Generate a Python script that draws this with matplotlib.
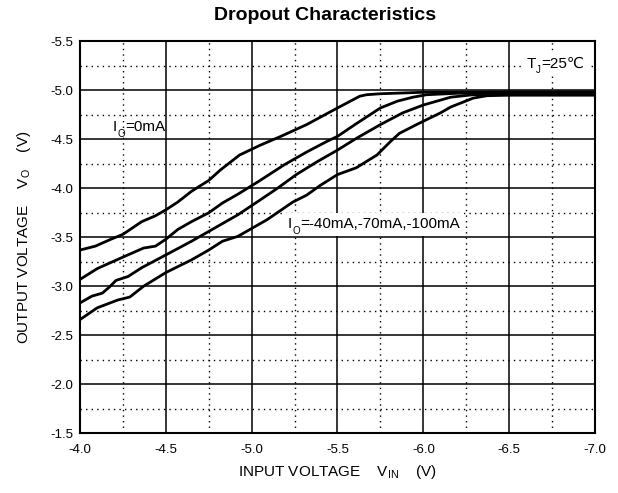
import numpy as np
import matplotlib
matplotlib.use("Agg")
import matplotlib.pyplot as plt

plt.rcParams['font.family'] = ['Liberation Sans', 'DejaVu Sans']
plt.rcParams['mathtext.fontset'] = 'custom'
plt.rcParams['mathtext.rm'] = 'Liberation Sans'

# input voltage (V) / output voltage (V)
vin_0 = [-4.0, -4.09, -4.18, -4.25, -4.36, -4.44, -4.50, -4.57, -4.65, -4.75, -4.82,
         -4.93, -5.05, -5.17, -5.32, -5.50, -5.63, -5.67, -5.75, -6.0, -6.5, -7.0]
vo_0 = [-3.37, -3.41, -3.48, -3.53, -3.66, -3.72, -3.78, -3.86, -3.97, -4.08, -4.19,
        -4.34, -4.44, -4.53, -4.65, -4.82, -4.94, -4.955, -4.965, -4.98, -4.985, -4.985]

vin_40 = [-4.0, -4.10, -4.24, -4.37, -4.44, -4.50, -4.57, -4.65, -4.75, -4.83, -4.92,
          -5.04, -5.19, -5.32, -5.44, -5.50, -5.61, -5.75, -5.85, -5.94, -6.02, -6.2,
          -6.5, -7.0]
vo_40 = [-3.07, -3.18, -3.29, -3.39, -3.41, -3.48, -3.58, -3.66, -3.75, -3.85, -3.94,
         -4.07, -4.24, -4.37, -4.48, -4.53, -4.66, -4.82, -4.89, -4.93, -4.955, -4.97,
         -4.975, -4.975]

vin_70 = [-4.0, -4.07, -4.13, -4.17, -4.21, -4.28, -4.36, -4.50, -4.65, -4.75, -4.83,
          -4.92, -5.04, -5.15, -5.26, -5.38, -5.50, -5.61, -5.75, -5.88, -6.0, -6.10,
          -6.16, -6.29, -6.5, -7.0]
vo_70 = [-2.83, -2.90, -2.93, -2.99, -3.06, -3.10, -3.19, -3.32, -3.46, -3.56, -3.64,
         -3.73, -3.87, -4.00, -4.14, -4.27, -4.39, -4.51, -4.65, -4.77, -4.85, -4.90,
         -4.93, -4.955, -4.96, -4.96]

vin_100 = [-4.0, -4.10, -4.22, -4.29, -4.37, -4.50, -4.65, -4.75, -4.83, -4.92, -5.0,
           -5.09, -5.24, -5.32, -5.40, -5.50, -5.61, -5.73, -5.81, -5.86, -5.96, -6.10,
           -6.16, -6.29, -6.37, -6.5, -7.0]
vo_100 = [-2.66, -2.78, -2.86, -2.89, -3.00, -3.14, -3.27, -3.37, -3.46, -3.51, -3.59,
          -3.68, -3.86, -3.93, -4.03, -4.14, -4.21, -4.34, -4.48, -4.56, -4.65, -4.77,
          -4.83, -4.92, -4.945, -4.95, -4.95]

x_ticks = [-4.0, -4.5, -5.0, -5.5, -6.0, -6.5, -7.0]
y_ticks = [-1.5, -2.0, -2.5, -3.0, -3.5, -4.0, -4.5, -5.0, -5.5]

fig = plt.figure(figsize=(6.18, 4.93), dpi=100)
ax = fig.add_axes([0.1294, 0.1211, 0.8334, 0.7951])

for vin, vo in [(vin_0, vo_0), (vin_40, vo_40), (vin_70, vo_70), (vin_100, vo_100)]:
    ax.plot(vin, vo, color='black', linewidth=2, solid_joinstyle='round', zorder=3)

ax.set_xlim(-4.0, -7.0)
ax.set_ylim(-1.5, -5.5)
ax.set_xticks(x_ticks)
ax.set_yticks(y_ticks)
ax.set_xticklabels([f"{v:.1f}" for v in x_ticks])
ax.set_yticklabels([f"{v:.1f}" for v in y_ticks])
ax.set_xticks(np.array(x_ticks[:-1]) - 0.25, minor=True)
ax.set_yticks(np.array(y_ticks[:-1]) - 0.25, minor=True)
ax.tick_params(which='both', length=0, labelsize=9.5)
ax.tick_params(axis='x', pad=8)
ax.tick_params(axis='y', pad=5)
ax.grid(which='major', color='black', linewidth=1.1, linestyle='-')
ax.grid(which='minor', color='black', linewidth=1.0, linestyle=(0, (1, 3)))
for s in ax.spines.values():
    s.set_linewidth(1.5)

fig.text(0.526, 0.968, "Dropout Characteristics", fontsize=14, fontweight='bold',
         ha='center', va='center')
ax.set_xlabel(r"INPUT VOLTAGE    V$_{\mathregular{IN}}$    (V)", fontsize=11, labelpad=5)
ax.set_ylabel(r"OUTPUT VOLTAGE    V$_{\mathregular{O}}$    (V)", fontsize=11, labelpad=12)


def sub_label(x, y, main, sub, rest, boxed=False):
    # letter, small lowered subscript, then the rest in the plain font
    box = dict(facecolor='white', edgecolor='none', pad=3) if boxed else None
    t = ax.text(x, y, main, fontsize=11, va='bottom', ha='left', zorder=5, bbox=box)
    s = ax.annotate(sub, xy=(1, 0), xycoords=t, xytext=(0.3, -3),
                    textcoords='offset points', fontsize=7, va='bottom', ha='left',
                    zorder=7)
    ax.annotate(rest, xy=(1, 0), xycoords=(s, t), xytext=(0.3, 0),
                textcoords='offset points', fontsize=11, va='bottom', ha='left',
                zorder=6, bbox=box)


sub_label(-4.19, -4.55, "I", "O", "=0mA")
sub_label(-5.21, -3.56, "I", "O", "=-40mA,-70mA,-100mA", boxed=True)
sub_label(-6.6, -5.2, "T", "J", "=25℃", boxed=True)

fig.savefig("out.png", dpi=100)
